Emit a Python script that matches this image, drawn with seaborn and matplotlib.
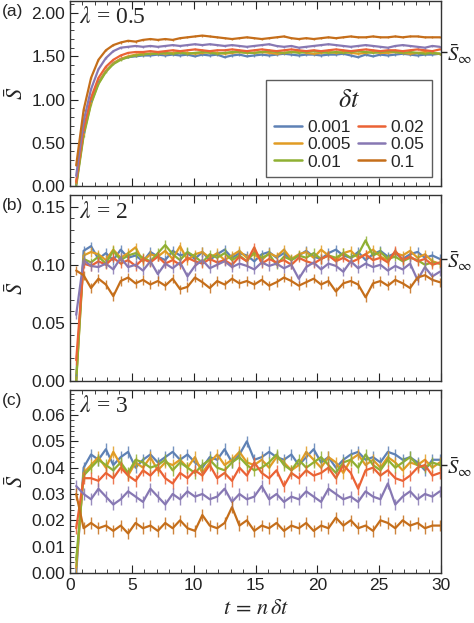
import numpy as np
import pandas as pd
import matplotlib
matplotlib.use("Agg")
import matplotlib.pyplot as plt
from matplotlib.ticker import MultipleLocator
import seaborn as sns

# time grid (t = n*dt samples)
t = np.round(np.arange(0.5, 30.0, 0.6), 1)

dts = ["0.001", "0.005", "0.01", "0.02", "0.05", "0.1"]
colors = ["#5E81B5", "#E19C24", "#8FB032", "#EB6235", "#8778B3", "#C56E1A"]

# panel (a): lambda = 0.5
a_0001 = [0.02, 0.62, 0.98, 1.20, 1.33, 1.42, 1.47, 1.49, 1.50, 1.51, 1.51, 1.52, 1.51, 1.52, 1.51, 1.52, 1.50, 1.52, 1.51, 1.52,
          1.49, 1.51, 1.52, 1.50, 1.51, 1.52, 1.51, 1.52, 1.53, 1.52, 1.51, 1.52, 1.52, 1.51, 1.52, 1.52, 1.53, 1.51, 1.49, 1.52,
          1.50, 1.52, 1.51, 1.52, 1.53, 1.52, 1.51, 1.52, 1.52, 1.53]
a_0005 = [0.03, 0.60, 0.96, 1.19, 1.33, 1.42, 1.47, 1.50, 1.52, 1.53, 1.53, 1.54, 1.53, 1.54, 1.55, 1.54, 1.53, 1.54, 1.55, 1.54,
          1.53, 1.54, 1.55, 1.54, 1.54, 1.55, 1.54, 1.53, 1.54, 1.55, 1.56, 1.54, 1.53, 1.54, 1.55, 1.54, 1.55, 1.54, 1.53, 1.54,
          1.55, 1.54, 1.54, 1.55, 1.54, 1.53, 1.54, 1.55, 1.54, 1.53]
a_001 = [0.00, 0.58, 0.95, 1.18, 1.32, 1.41, 1.46, 1.49, 1.51, 1.52, 1.53, 1.53, 1.54, 1.53, 1.54, 1.53, 1.54, 1.55, 1.54, 1.53,
         1.54, 1.55, 1.55, 1.54, 1.54, 1.55, 1.56, 1.55, 1.54, 1.55, 1.54, 1.55, 1.56, 1.55, 1.54, 1.55, 1.54, 1.55, 1.56, 1.55,
         1.54, 1.55, 1.56, 1.55, 1.54, 1.55, 1.54, 1.53, 1.54, 1.53]
a_002 = [0.05, 0.66, 1.02, 1.25, 1.38, 1.46, 1.51, 1.54, 1.55, 1.55, 1.56, 1.55, 1.56, 1.57, 1.56, 1.57, 1.58, 1.57, 1.56, 1.57,
         1.57, 1.58, 1.57, 1.56, 1.57, 1.58, 1.57, 1.56, 1.57, 1.58, 1.57, 1.56, 1.57, 1.56, 1.57, 1.58, 1.57, 1.56, 1.57, 1.58,
         1.57, 1.56, 1.57, 1.57, 1.56, 1.57, 1.58, 1.57, 1.56, 1.58]
a_005 = [0.12, 0.75, 1.12, 1.35, 1.48, 1.56, 1.60, 1.61, 1.62, 1.61, 1.62, 1.61, 1.62, 1.63, 1.62, 1.63, 1.64, 1.63, 1.64, 1.63,
         1.62, 1.63, 1.62, 1.61, 1.62, 1.63, 1.64, 1.62, 1.61, 1.62, 1.60, 1.61, 1.62, 1.63, 1.64, 1.63, 1.62, 1.61, 1.62, 1.63,
         1.62, 1.61, 1.60, 1.62, 1.63, 1.62, 1.61, 1.60, 1.62, 1.61]
a_01 = [0.24, 0.88, 1.25, 1.46, 1.57, 1.63, 1.66, 1.68, 1.67, 1.69, 1.70, 1.69, 1.70, 1.69, 1.71, 1.72, 1.73, 1.74, 1.73, 1.72,
        1.71, 1.70, 1.71, 1.72, 1.71, 1.70, 1.71, 1.72, 1.73, 1.71, 1.70, 1.71, 1.70, 1.71, 1.72, 1.71, 1.72, 1.73, 1.72, 1.72,
        1.73, 1.72, 1.72, 1.73, 1.72, 1.73, 1.73, 1.72, 1.72, 1.72]

# panel (b): lambda = 2
b_0001 = [0.002, 0.112, 0.116, 0.105, 0.110, 0.104, 0.113, 0.106, 0.108, 0.103, 0.111, 0.107, 0.104, 0.112, 0.108, 0.110, 0.105,
          0.111, 0.104, 0.109, 0.113, 0.106, 0.110, 0.108, 0.103, 0.109, 0.111, 0.106, 0.110, 0.104, 0.108, 0.112, 0.107, 0.105,
          0.110, 0.113, 0.108, 0.106, 0.111, 0.104, 0.109, 0.112, 0.107, 0.110, 0.105, 0.109, 0.111, 0.106, 0.108, 0.105]
b_0005 = [0.000, 0.108, 0.111, 0.109, 0.104, 0.113, 0.106, 0.110, 0.115, 0.103, 0.109, 0.107, 0.112, 0.105, 0.116, 0.104, 0.109,
          0.111, 0.106, 0.110, 0.104, 0.108, 0.112, 0.106, 0.109, 0.104, 0.110, 0.107, 0.113, 0.105, 0.109, 0.111, 0.106, 0.113,
          0.108, 0.104, 0.110, 0.112, 0.106, 0.109, 0.113, 0.107, 0.104, 0.110, 0.108, 0.112, 0.106, 0.109, 0.103, 0.101]
b_001 = [0.000, 0.105, 0.102, 0.107, 0.101, 0.112, 0.104, 0.108, 0.110, 0.106, 0.103, 0.110, 0.117, 0.109, 0.104, 0.111, 0.107,
         0.102, 0.109, 0.106, 0.110, 0.104, 0.108, 0.103, 0.111, 0.106, 0.109, 0.100, 0.107, 0.104, 0.108, 0.106, 0.110, 0.105,
         0.108, 0.106, 0.110, 0.106, 0.109, 0.121, 0.108, 0.111, 0.105, 0.107, 0.103, 0.106, 0.104, 0.100, 0.102, 0.101]
b_002 = [0.018, 0.101, 0.099, 0.103, 0.100, 0.106, 0.101, 0.104, 0.099, 0.105, 0.102, 0.107, 0.101, 0.104, 0.100, 0.106, 0.103,
         0.101, 0.105, 0.102, 0.104, 0.100, 0.107, 0.103, 0.115, 0.101, 0.105, 0.102, 0.104, 0.100, 0.106, 0.103, 0.101, 0.105,
         0.108, 0.103, 0.106, 0.102, 0.105, 0.109, 0.104, 0.106, 0.102, 0.112, 0.104, 0.107, 0.103, 0.105, 0.100, 0.102]
b_005 = [0.057, 0.104, 0.099, 0.098, 0.101, 0.096, 0.106, 0.098, 0.100, 0.095, 0.103, 0.092, 0.101, 0.097, 0.102, 0.090, 0.099,
         0.104, 0.097, 0.100, 0.103, 0.098, 0.101, 0.099, 0.096, 0.102, 0.099, 0.101, 0.097, 0.100, 0.088, 0.098, 0.102, 0.096,
         0.101, 0.099, 0.094, 0.103, 0.097, 0.101, 0.098, 0.100, 0.095, 0.099, 0.096, 0.101, 0.087, 0.098, 0.090, 0.094]
b_01 = [0.095, 0.091, 0.080, 0.088, 0.083, 0.073, 0.086, 0.089, 0.084, 0.087, 0.083, 0.086, 0.082, 0.088, 0.079, 0.081, 0.089,
        0.085, 0.080, 0.086, 0.083, 0.088, 0.084, 0.086, 0.083, 0.087, 0.082, 0.085, 0.089, 0.086, 0.082, 0.085, 0.088, 0.083,
        0.086, 0.077, 0.084, 0.086, 0.083, 0.072, 0.084, 0.086, 0.082, 0.087, 0.084, 0.080, 0.089, 0.091, 0.087, 0.085]

# panel (c): lambda = 3
c_0001 = [0.000, 0.040, 0.045, 0.043, 0.047, 0.041, 0.044, 0.046, 0.040, 0.043, 0.045, 0.042, 0.044, 0.046, 0.043, 0.045, 0.042,
          0.040, 0.044, 0.043, 0.047, 0.042, 0.045, 0.050, 0.043, 0.044, 0.046, 0.044, 0.043, 0.045, 0.041, 0.044, 0.047, 0.042,
          0.044, 0.040, 0.043, 0.045, 0.046, 0.043, 0.044, 0.042, 0.046, 0.045, 0.043, 0.044, 0.042, 0.039, 0.043, 0.043]
c_0005 = [0.002, 0.038, 0.041, 0.044, 0.040, 0.046, 0.041, 0.037, 0.042, 0.040, 0.044, 0.039, 0.042, 0.041, 0.043, 0.040, 0.044,
          0.038, 0.042, 0.045, 0.041, 0.043, 0.046, 0.042, 0.041, 0.043, 0.040, 0.044, 0.042, 0.039, 0.041, 0.046, 0.043, 0.040,
          0.044, 0.042, 0.038, 0.043, 0.045, 0.041, 0.043, 0.040, 0.044, 0.042, 0.039, 0.042, 0.041, 0.043, 0.040, 0.042]
c_001 = [0.005, 0.037, 0.040, 0.043, 0.041, 0.039, 0.042, 0.038, 0.043, 0.042, 0.040, 0.041, 0.043, 0.039, 0.042, 0.040, 0.038,
         0.041, 0.043, 0.040, 0.039, 0.042, 0.044, 0.041, 0.039, 0.040, 0.042, 0.045, 0.041, 0.039, 0.043, 0.040, 0.042, 0.044,
         0.041, 0.038, 0.042, 0.043, 0.040, 0.045, 0.041, 0.039, 0.043, 0.040, 0.042, 0.044, 0.041, 0.040, 0.042, 0.041]
c_002 = [0.017, 0.036, 0.036, 0.035, 0.038, 0.036, 0.040, 0.037, 0.035, 0.039, 0.037, 0.040, 0.036, 0.034, 0.038, 0.036, 0.039,
         0.037, 0.041, 0.036, 0.038, 0.035, 0.040, 0.037, 0.042, 0.038, 0.036, 0.039, 0.033, 0.038, 0.036, 0.039, 0.037, 0.038,
         0.040, 0.036, 0.041, 0.038, 0.032, 0.039, 0.040, 0.037, 0.039, 0.036, 0.035, 0.037, 0.040, 0.041, 0.037, 0.038]
c_005 = [0.033, 0.030, 0.028, 0.032, 0.029, 0.026, 0.028, 0.031, 0.029, 0.027, 0.032, 0.029, 0.026, 0.030, 0.028, 0.031, 0.029,
         0.030, 0.028, 0.029, 0.032, 0.027, 0.030, 0.028, 0.029, 0.033, 0.028, 0.030, 0.027, 0.029, 0.028, 0.031, 0.029, 0.027,
         0.032, 0.030, 0.028, 0.029, 0.027, 0.031, 0.029, 0.028, 0.034, 0.026, 0.029, 0.031, 0.028, 0.030, 0.029, 0.031]
c_01 = [0.030, 0.017, 0.019, 0.017, 0.018, 0.016, 0.018, 0.015, 0.019, 0.017, 0.018, 0.016, 0.019, 0.017, 0.020, 0.017, 0.016,
        0.022, 0.018, 0.017, 0.019, 0.025, 0.018, 0.020, 0.016, 0.018, 0.017, 0.019, 0.016, 0.018, 0.017, 0.019, 0.016, 0.018,
        0.017, 0.021, 0.018, 0.020, 0.017, 0.018, 0.016, 0.020, 0.019, 0.017, 0.020, 0.018, 0.019, 0.017, 0.018, 0.018]

# error bar half-lengths per panel
err_a = 0.012
err_b = 0.004
err_c = 0.0022

lambdas = ["0.5", "2", "3"]
s_inf = [1.55, 0.105, 0.041]
ylims = [(0, 2.14), (0, 0.160), (0, 0.0695)]
ymajor = [0.5, 0.05, 0.01]
yminor = [0.1, 0.01, 0.002]

panels = [
    ([a_0001, a_0005, a_001, a_002, a_005, a_01], err_a),
    ([b_0001, b_0005, b_001, b_002, b_005, b_01], err_b),
    ([c_0001, c_0005, c_001, c_002, c_005, c_01], err_c),
]

sns.set_style("ticks")
plt.rcParams["font.family"] = ["Liberation Sans", "DejaVu Sans"]
plt.rcParams["mathtext.fontset"] = "stix"

fig = plt.figure(figsize=(4.74, 6.23), dpi=100)
boxes = [(0.1477, 0.7014, 0.7827, 0.2970),
         (0.1477, 0.3884, 0.7827, 0.2986),
         (0.1477, 0.0803, 0.7827, 0.2937)]

for i, ((series, err), box) in enumerate(zip(panels, boxes)):
    ax = fig.add_axes(box)
    df = pd.DataFrame({
        "t": np.tile(t, len(dts)),
        "S": np.concatenate(series),
        "dt": np.repeat(dts, len(t)),
    })
    sns.lineplot(data=df, x="t", y="S", hue="dt", hue_order=dts, palette=colors,
                 sort=False, errorbar=None, linewidth=1.6, ax=ax, legend=(i == 0))
    for vals, col in zip(series, colors):
        ax.errorbar(t, vals, yerr=err, fmt="none", ecolor=col, elinewidth=1.0, alpha=0.85)

    ax.set_xlim(0, 30)
    ax.set_ylim(*ylims[i])
    ax.xaxis.set_major_locator(MultipleLocator(5))
    ax.xaxis.set_minor_locator(MultipleLocator(1))
    ax.yaxis.set_major_locator(MultipleLocator(ymajor[i]))
    ax.yaxis.set_minor_locator(MultipleLocator(yminor[i]))
    ax.tick_params(which="both", direction="in", top=True, right=True, labelsize=12.5, colors="#222222")
    ax.tick_params(which="major", length=6, width=0.8)
    ax.tick_params(which="minor", length=3, width=0.6)
    ax.yaxis.set_major_formatter(matplotlib.ticker.FormatStrFormatter("%.2f"))
    for sp in ax.spines.values():
        sp.set_color("#333333")
        sp.set_linewidth(1.0)
    ax.set_ylabel(r"$\bar{S}$", fontsize=16, labelpad=2)
    if i < 2:
        ax.set_xticklabels([])
        ax.set_xlabel("")
    else:
        ax.set_xlabel(r"$t\,=\,n\,\delta t$", fontsize=16, labelpad=4)

    ax.text(0.025, 0.965, r"$\lambda$ = " + lambdas[i], transform=ax.transAxes,
            ha="left", va="top", fontsize=17, family="Liberation Serif")
    fig.text(0.003, box[1] + box[3] - 0.005, "(" + "abc"[i] + ")", ha="left", va="top", fontsize=12.5)

    # S-infinity marker on the right edge
    ax2 = ax.twinx()
    ax2.set_ylim(*ylims[i])
    ax2.set_yticks([s_inf[i]])
    ax2.set_yticklabels([r"$\bar{S}_\infty$"], fontsize=15)
    ax2.tick_params(axis="y", direction="out", length=4, width=1.0, pad=0.5, colors="#222222")
    ax2.yaxis.set_minor_locator(matplotlib.ticker.NullLocator())
    for sp in ax2.spines.values():
        sp.set_visible(False)

    if i == 0:
        handles, labels = ax.get_legend_handles_labels()
        leg = ax.legend(handles, labels, ncol=2, loc="lower right", title=r"$\delta t$",
                        fontsize=12.5, title_fontsize=19, frameon=True, fancybox=False,
                        borderaxespad=0.5, handlelength=1.6, handletextpad=0.3,
                        columnspacing=0.4, labelspacing=0.12, borderpad=0.45)
        leg.get_frame().set_edgecolor("#333333")
        leg.get_frame().set_linewidth(1.0)
        leg._legend_box.sep = 6
        for ln in leg.get_lines():
            ln.set_linewidth(1.8)

fig.savefig("out.png", dpi=100)
